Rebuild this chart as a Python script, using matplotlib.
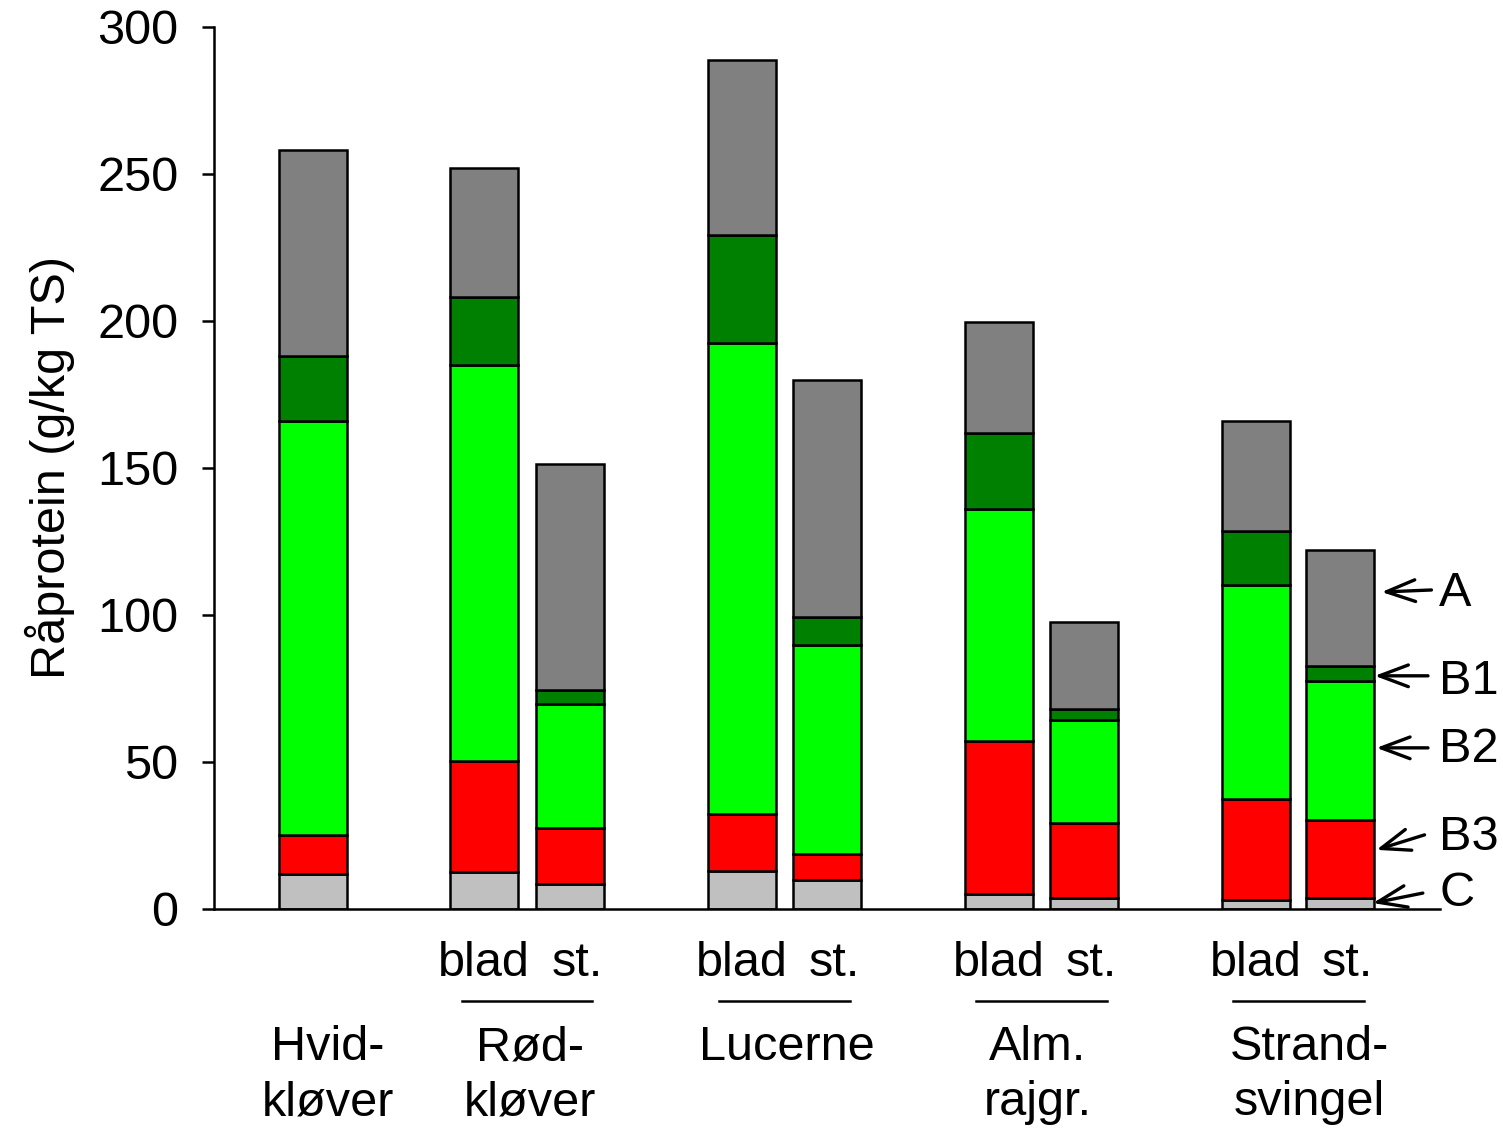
import numpy as np
import matplotlib.pyplot as plt

plt.rcParams['font.family'] = ['Liberation Sans', 'DejaVu Sans']

# Proteinfraktioner (g/kg TS) for hver søjle
bars = ["Hvid", "Rød blad", "Rød st.", "Luc blad", "Luc st.",
        "Alm blad", "Alm st.", "Strand blad", "Strand st."]
C = [12, 12.6, 8.5, 12.9, 9.9, 5.1, 3.7, 3.1, 3.7]
B3 = [13, 37.7, 19, 19.4, 8.8, 52, 25.6, 34.3, 26.6]
B2 = [141, 134.7, 42.2, 160.2, 71.1, 78.9, 35, 72.8, 47.3]
B1 = [22, 23, 4.8, 36.8, 9.5, 26, 3.7, 18.4, 5.1]
A = [70, 44, 76.9, 59.5, 80.7, 37.7, 29.6, 37.4, 39.4]

fractions = ["C", "B3", "B2", "B1", "A"]
colors = ["#c0c0c0", "#ff0000", "#00ff00", "#008000", "#808080"]

groups = [["Hvid-", "kløver"], ["Rød-", "kløver"], ["Lucerne"], ["Alm.", "rajgr."], ["Strand-", "svingel"]]
sub_labels = ["blad", "st."]

# layout
pos = np.array([1.15, 3.14, 4.14, 6.14, 7.13, 9.13, 10.12, 12.12, 13.1])
width = 0.79
group_x = [1.32, 3.68, 6.66, 9.58, 12.74]
pair_idx = [(1, 2), (3, 4), (5, 6), (7, 8)]

fig = plt.figure(figsize=(15.03, 11.29), dpi=100)
ax = fig.add_axes([0.1424, 0.1949, 0.8157, 0.7812])

bottom = np.zeros(len(bars))
for vals, col in zip([C, B3, B2, B1, A], colors):
    ax.bar(pos, vals, width, bottom=bottom, color=col, edgecolor='black', linewidth=1.8)
    bottom += np.array(vals)

ax.set_xlim(0, 14.26)
ax.set_ylim(0, 300)
ax.set_yticks(np.arange(0, 301, 50))
ax.set_xticks([])
ax.spines['top'].set_visible(False)
ax.spines['right'].set_visible(False)
ax.spines['left'].set_linewidth(1.8)
ax.spines['bottom'].set_linewidth(1.8)
ax.tick_params(axis='y', length=8.6, width=1.8, labelsize=35, pad=17)
ax.set_ylabel("Råprotein (g/kg TS)", fontsize=35, labelpad=16)

# blad / st. labels and underline
for i, j in pair_idx:
    ax.text(pos[i], -18.5, sub_labels[0], ha='center', va='center', fontsize=35)
    ax.text(pos[j] + 0.08, -18.5, sub_labels[1], ha='center', va='center', fontsize=35)
    mid = (pos[i] + pos[j]) / 2
    ax.plot([mid - 0.76, mid + 0.76], [-31.3, -31.3], color='black', lw=1.8, clip_on=False)

# group names
for gx, lines in zip(group_x, groups):
    for k, line in enumerate(lines):
        ax.text(gx, -47.2 - 18.7 * k, line, ha='center', va='center', fontsize=35)

# fraction arrows at the last bar
arrows = [("A", (14.16, 108.5), (13.58, 107.8), 107.3),
          ("B1", (14.12, 79.3), (13.5, 79.3), 77.5),
          ("B2", (14.12, 54.8), (13.52, 54.8), 54.3),
          ("B3", (14.08, 25.2), (13.52, 20.1), 24.3),
          ("C", (14.06, 5.4), (13.48, 2.0), 5.4)]
for name, tail, head, ty in arrows:
    ax.annotate("", xy=head, xytext=tail, annotation_clip=False,
                arrowprops=dict(arrowstyle='->,head_length=0.8,head_width=0.3',
                                lw=2.4, color='black', mutation_scale=26,
                                shrinkA=0, shrinkB=0))
    ax.text(14.25, ty, name, ha='left', va='center', fontsize=35, clip_on=False)

fig.savefig("out.png", dpi=100)
